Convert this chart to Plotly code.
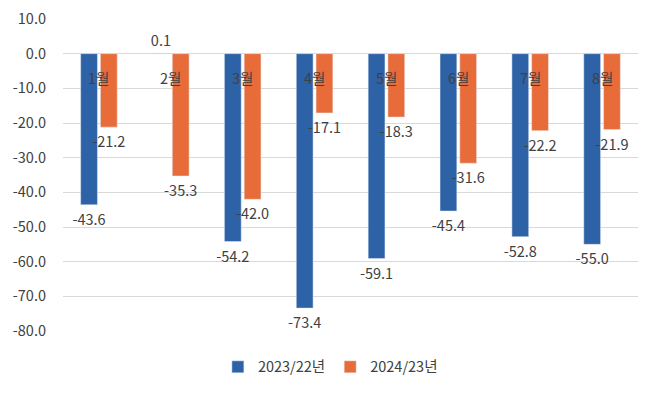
import plotly.graph_objects as go

months = ["1월", "2월", "3월", "4월", "5월", "6월", "7월", "8월"]
series_2023 = [-43.6, 0.1, -54.2, -73.4, -59.1, -45.4, -52.8, -55.0]
series_2024 = [-21.2, -35.3, -42.0, -17.1, -18.3, -31.6, -22.2, -21.9]
name_2023 = "2023/22년"
name_2024 = "2024/23년"
y_ticks = [10, 0, -10, -20, -30, -40, -50, -60, -70, -80]

FONT = "Noto Sans CJK KR, Noto Sans, sans-serif"
TXT = "#404040"
FS = 14.5


def labels(vals):
    # add a blank line on the side facing the bar so the label sits a bit farther away
    return [("<br>" + f"{v:.1f}") if v < 0 else (f"{v:.1f}" + "<br>") for v in vals]


fig = go.Figure()
fig.add_trace(go.Bar(
    x=months, y=series_2023, name=name_2023,
    marker_color="#2E62A6",
    text=labels(series_2023), textposition="outside", constraintext="none",
    textfont=dict(size=FS, color=TXT, family=FONT),
    cliponaxis=False,
))
fig.add_trace(go.Bar(
    x=months, y=series_2024, name=name_2024,
    marker_color="#E86C3A",
    text=labels(series_2024), textposition="outside", constraintext="none",
    textfont=dict(size=FS, color=TXT, family=FONT),
    cliponaxis=False,
))

for m in months:
    fig.add_annotation(x=m, y=0, xref="x", yref="y", text=m, showarrow=False,
                       yshift=-24, font=dict(size=FS, color=TXT, family=FONT))

fig.update_layout(
    width=658, height=394,
    margin=dict(l=63, r=20, t=19, b=63, autoexpand=False),
    paper_bgcolor="white", plot_bgcolor="white",
    barmode="group", bargap=0.45, bargroupgap=0.15,
    font=dict(family=FONT, size=FS, color=TXT),
    showlegend=True,
    legend=dict(orientation="h", x=0.465, xanchor="center", y=-0.115, yanchor="middle",
                font=dict(size=FS, color=TXT, family=FONT), itemwidth=30,
                tracegroupgap=0),
    uniformtext=dict(mode=False),
)
fig.update_xaxes(showticklabels=False, showgrid=False, showline=False, zeroline=False)
fig.update_yaxes(range=[-80, 10], tickvals=y_ticks, ticktext=[f"{v:.1f}" for v in y_ticks],
                 showgrid=True, gridcolor="#D9D9D9", gridwidth=1,
                 zeroline=True, zerolinecolor="#D9D9D9", zerolinewidth=1,
                 showline=False, ticks="", ticklabelstandoff=16,
                 tickfont=dict(size=FS, color=TXT, family=FONT))

fig.write_html("out.html", config={"displayModeBar": False},
               post_script="document.body.style.margin='0';document.body.style.padding='0';")
